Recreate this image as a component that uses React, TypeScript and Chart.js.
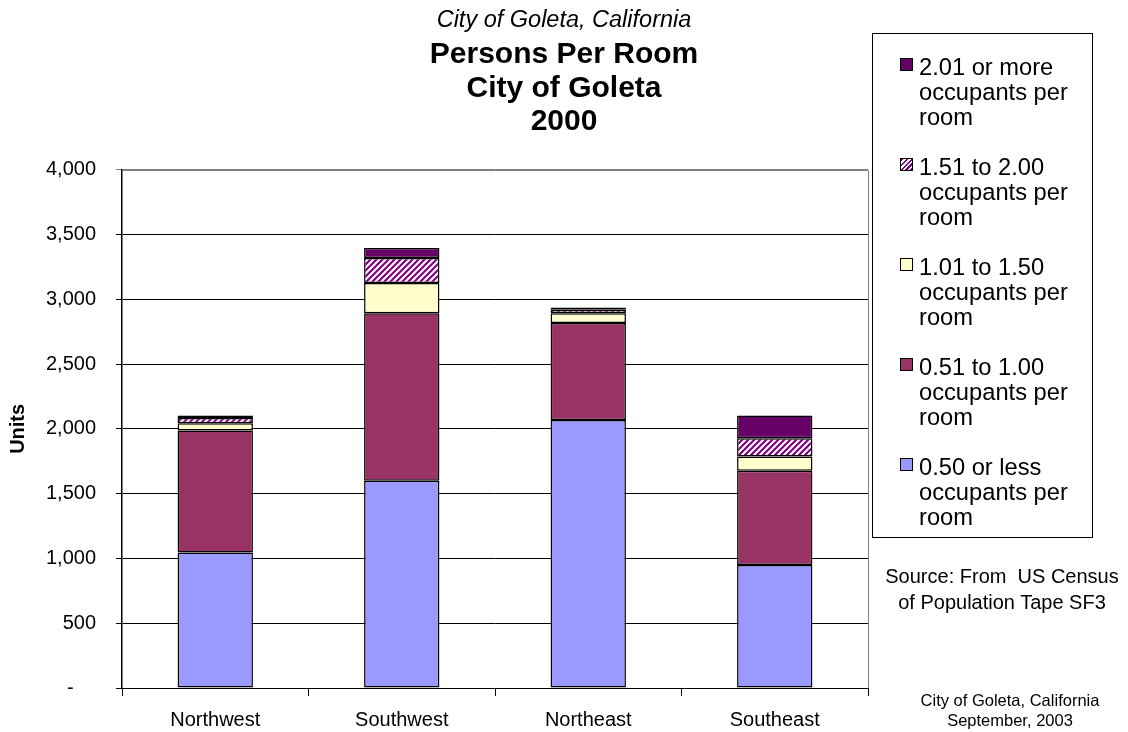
import React, { useEffect, useRef } from 'react';
import { Chart, registerables } from 'chart.js';

Chart.register(...registerables);

const categories = ['Northwest', 'Southwest', 'Northeast', 'Southeast'];
const halfOrLess = [1045, 1600, 2069, 950];
const halfToOne = [942, 1293, 747, 726];
const oneToOneHalf = [57, 232, 77, 110];
const oneHalfToTwo = [39, 193, 26, 142];
const twoOrMore = [20, 77, 18, 175];

const seriesLabels = [
  '0.50 or less occupants per room',
  '0.51 to 1.00 occupants per room',
  '1.01 to 1.50 occupants per room',
  '1.51 to 2.00 occupants per room',
  '2.01 or more occupants per room',
];
const legendLines = [
  ['2.01 or more', 'occupants per', 'room'],
  ['1.51 to 2.00', 'occupants per', 'room'],
  ['1.01 to 1.50', 'occupants per', 'room'],
  ['0.51 to 1.00', 'occupants per', 'room'],
  ['0.50 or less', 'occupants per', 'room'],
];

const titleTop = 'City of Goleta, California';
const titleMain = ['Persons Per Room', 'City of Goleta', '2000'];
const yAxisTitle = 'Units';
const sourceNote = ['Source: From  US Census', 'of Population Tape SF3'];
const footNote = ['City of Goleta, California', 'September, 2003'];

const BLUE = '#9999FF';
const MAROON = '#993366';
const YELLOW = '#FFFFCC';
const HATCH = '#800080';
const PURPLE = '#660066';

const FONT = '"Liberation Sans", Arial, Helvetica, sans-serif';

function makeHatch(): CanvasPattern | string {
  const s = 6;
  const c = document.createElement('canvas');
  c.width = s;
  c.height = s;
  const g = c.getContext('2d');
  if (!g) return HATCH;
  g.fillStyle = '#ffffff';
  g.fillRect(0, 0, s, s);
  g.strokeStyle = HATCH;
  g.lineWidth = 2.2;
  g.beginPath();
  g.moveTo(-1, s + 1);
  g.lineTo(s + 1, -1);
  g.moveTo(-1, 1);
  g.lineTo(1, -1);
  g.moveTo(s - 1, s + 1);
  g.lineTo(s + 1, s - 1);
  g.stroke();
  const p = g.createPattern(c, 'repeat');
  return p || HATCH;
}

const framePlugin = {
  id: 'frame',
  afterDatasetsDraw(chart: any) {
    const { ctx, chartArea } = chart;
    const { left, right, top, bottom } = chartArea;
    ctx.save();
    ctx.strokeStyle = '#808080';
    ctx.lineWidth = 1;
    ctx.beginPath();
    ctx.moveTo(left, Math.round(top) + 0.5);
    ctx.lineTo(Math.round(right) + 0.5, Math.round(top) + 0.5);
    ctx.lineTo(Math.round(right) + 0.5, bottom);
    ctx.stroke();
    ctx.restore();
  },
};

export default function App() {
  const canvasRef = useRef<HTMLCanvasElement | null>(null);

  useEffect(() => {
    if (!canvasRef.current) return;
    Chart.defaults.font.family = FONT;
    Chart.defaults.color = '#000';
    const hatch = makeHatch();
    const chart = new Chart(canvasRef.current, {
      type: 'bar',
      data: {
        labels: categories,
        datasets: [
          { label: seriesLabels[0], data: halfOrLess, backgroundColor: BLUE },
          { label: seriesLabels[1], data: halfToOne, backgroundColor: MAROON },
          { label: seriesLabels[2], data: oneToOneHalf, backgroundColor: YELLOW },
          { label: seriesLabels[3], data: oneHalfToTwo, backgroundColor: hatch as any },
          { label: seriesLabels[4], data: twoOrMore, backgroundColor: PURPLE },
        ].map((d) => ({
          ...d,
          borderColor: '#000',
          borderWidth: 1.5,
          borderSkipped: false,
          categoryPercentage: 1,
          barPercentage: 0.404,
        })),
      },
      options: {
        responsive: false,
        animation: false,
        devicePixelRatio: 1,
        layout: { padding: 0 },
        plugins: {
          legend: { display: false },
          tooltip: { enabled: false },
          title: {
            display: true,
            text: titleTop,
            color: '#000',
            font: { family: FONT, size: 23.5, style: 'italic', weight: 'normal', lineHeight: 1.2 },
            padding: { top: 6, bottom: 4 },
          },
          subtitle: {
            display: true,
            text: titleMain,
            color: '#000',
            font: { family: FONT, size: 30, weight: 'bold', lineHeight: '33.5px' },
            padding: { top: 0, bottom: 31 },
          },
        },
        scales: {
          x: {
            stacked: true,
            grid: {
              offset: true,
              drawOnChartArea: false,
              drawTicks: true,
              tickLength: 8,
              color: '#000',
            },
            border: { display: true, color: '#000', width: 1 },
            ticks: { font: { family: FONT, size: 20 }, color: '#000', padding: 12, maxRotation: 0 },
            afterFit: (s: any) => {
              s.height = 44;
            },
          },
          y: {
            stacked: true,
            min: 0,
            max: 4000,
            ticks: {
              stepSize: 500,
              font: { family: FONT, size: 20 },
              color: '#000',
              padding: 20,
              callback: (v: any) => (Number(v) === 0 ? '-    ' : Number(v).toLocaleString('en-US')),
            },
            grid: {
              color: (c: any) => (c.tick && c.tick.value === 4000 ? '#808080' : '#000'),
              tickLength: 6,
              lineWidth: 1,
            },
            border: { display: true, color: '#000', width: 1.5 },
            title: {
              display: true,
              text: yAxisTitle,
              font: { family: FONT, size: 20, weight: 'bold' },
              color: '#000',
              padding: { top: 6, bottom: 0 },
            },
            afterFit: (s: any) => {
              s.width = 122;
            },
          },
          spacer: {
            type: 'linear',
            position: 'right',
            display: true,
            grid: { display: false, drawTicks: false },
            border: { display: false },
            ticks: { display: false },
            afterFit: (s: any) => {
              s.width = 260;
            },
          },
        },
      } as any,
      plugins: [framePlugin],
    });
    return () => chart.destroy();
  }, []);

  const swatchStyle = (i: number): React.CSSProperties => {
    const base: React.CSSProperties = {
      position: 'absolute',
      left: 900,
      width: 13,
      height: 13,
      border: '1px solid #000',
      boxSizing: 'border-box',
    };
    const fills = [
      { background: PURPLE },
      { background: `repeating-linear-gradient(-45deg, ${HATCH} 0 1.6px, #fff 1.6px 3.4px)` },
      { background: YELLOW },
      { background: MAROON },
      { background: BLUE },
    ];
    return { ...base, ...fills[i], top: 58 + i * 100 };
  };

  return (
    <div
      style={{
        position: 'fixed',
        left: 0,
        top: 0,
        width: 1128,
        height: 732,
        background: '#fff',
        fontFamily: FONT,
        color: '#000',
        overflow: 'hidden',
      }}
    >
      <canvas ref={canvasRef} width={1128} height={732} style={{ position: 'absolute', left: 0, top: 0 }} />
      <div
        style={{
          position: 'absolute',
          left: 872,
          top: 33,
          width: 221,
          height: 505,
          border: '1px solid #000',
          boxSizing: 'border-box',
        }}
      />
      {legendLines.map((lines, i) => (
        <React.Fragment key={i}>
          <div style={swatchStyle(i)} />
          <div
            style={{
              position: 'absolute',
              left: 919,
              top: 54.5 + i * 100,
              fontSize: 23.7,
              lineHeight: '25px',
              whiteSpace: 'nowrap',
            }}
          >
            {lines.map((l, j) => (
              <div key={j}>{l}</div>
            ))}
          </div>
        </React.Fragment>
      ))}
      <div
        style={{
          position: 'absolute',
          left: 872,
          width: 260,
          top: 563,
          textAlign: 'center',
          fontSize: 20,
          lineHeight: '26px',
          whiteSpace: 'pre',
        }}
      >
        {sourceNote.map((l, j) => (
          <div key={j}>{l}</div>
        ))}
      </div>
      <div
        style={{
          position: 'absolute',
          left: 880,
          width: 260,
          top: 690,
          textAlign: 'center',
          fontSize: 16.5,
          lineHeight: '20px',
          whiteSpace: 'pre',
        }}
      >
        {footNote.map((l, j) => (
          <div key={j}>{l}</div>
        ))}
      </div>
    </div>
  );
}
